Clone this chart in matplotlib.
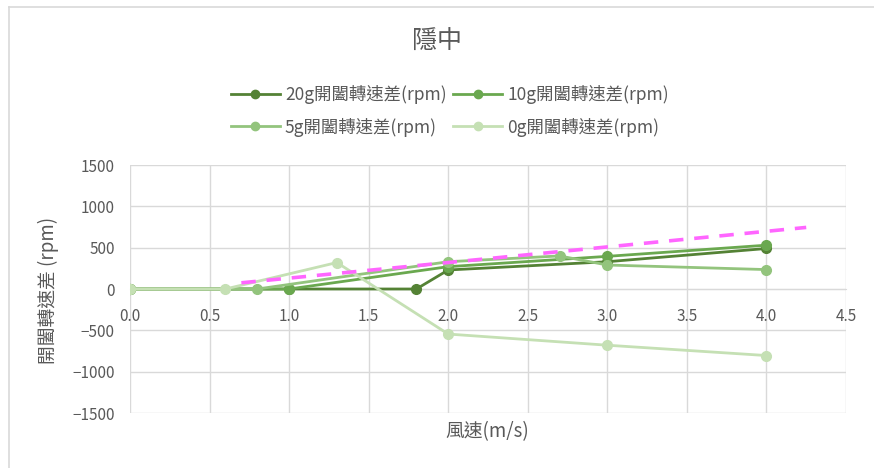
import matplotlib
matplotlib.use("Agg")
from matplotlib import pyplot as plt
from matplotlib.lines import Line2D

plt.rcParams['font.family'] = ['Noto Sans CJK TC', 'DejaVu Sans']

# data
x_20g = [0.0, 1.0, 1.8, 2.0, 3.0, 4.0]
y_20g = [0, 0, 0, 230, 330, 490]
x_10g = [0.0, 1.0, 2.0, 3.0, 4.0]
y_10g = [0, 0, 270, 395, 530]
x_5g = [0.0, 0.8, 2.0, 2.7, 3.0, 4.0]
y_5g = [0, 0, 330, 400, 290, 235]
x_0g = [0.0, 0.6, 1.3, 2.0, 3.0, 4.0]
y_0g = [0, 0, 320, -545, -680, -805]
trend_x = [0.7, 4.25]
trend_y = [75, 745]

labels = ['20g開闔轉速差(rpm)', '10g開闔轉速差(rpm)', '5g開闔轉速差(rpm)', '0g開闔轉速差(rpm)']
colors = ['#548235', '#6AA84F', '#93C47D', '#C5E0B4']
x_ticks = [0.0, 0.5, 1.0, 1.5, 2.0, 2.5, 3.0, 3.5, 4.0, 4.5]
y_ticks = [-1500, -1000, -500, 0, 500, 1000, 1500]

text_color = '#595959'
grid_color = '#D9D9D9'

fig = plt.figure(figsize=(8.74, 4.68), dpi=100)
ax = fig.add_axes([130 / 874, 1 - 413 / 468, 716 / 874, 248 / 468])

series = [(x_20g, y_20g), (x_10g, y_10g), (x_5g, y_5g), (x_0g, y_0g)]
# later series sit on top, like in the spreadsheet
for i, ((xs, ys), c) in enumerate(zip(series, colors)):
    ax.plot(xs, ys, color=c, lw=2.0, marker='o', ms=7, mec=c, mfc=c, zorder=3 + i * 0.1)

ax.plot(trend_x, trend_y, color='#FF66FF', lw=2.6, ls=(0, (4, 3)), zorder=4)

ax.set_xlim(0, 4.5)
ax.set_ylim(-1500, 1500)
ax.set_xticks(x_ticks)
ax.set_xticklabels([f'{v:.1f}' for v in x_ticks])
ax.set_yticks(y_ticks)
ax.grid(True, color=grid_color, lw=1)
ax.set_axisbelow(True)

for side in ['top', 'right', 'left']:
    ax.spines[side].set_visible(False)
ax.spines['bottom'].set_position(('data', 0))
ax.spines['bottom'].set_color(grid_color)
ax.tick_params(length=0, colors=text_color, labelsize=11)
ax.tick_params(axis='x', pad=14)
ax.tick_params(axis='y', pad=11)

fig.text(487 / 874, 1 - 432 / 468, '風速(m/s)', ha='center', va='center',
         fontsize=13.5, color=text_color)
fig.text(48 / 874, 1 - 290 / 468, '開闔轉速差 (rpm)', ha='center', va='center',
         rotation=90, fontsize=13.5, color=text_color)
fig.text(437 / 874, 1 - 42 / 468, '隱中', ha='center', va='center',
         fontsize=18, color=text_color)

# legend fills column by column, so reorder to get 20g,10g / 5g,0g rows
order = [0, 2, 1, 3]
handles = [Line2D([], [], color=colors[i], lw=2.0, marker='o', ms=6,
                  mec=colors[i], mfc=colors[i]) for i in order]
fig.legend(handles, [labels[i] for i in order], loc='center',
           bbox_to_anchor=(450 / 874, 1 - 111 / 468),
           ncol=2, frameon=False, fontsize=12.5, labelcolor=text_color,
           handlelength=2.8, handletextpad=0.3, columnspacing=0.4, labelspacing=0.75)

# chart frame (only left and top edges are inside the screenshot)
fig.add_artist(Line2D([9 / 874, 9 / 874], [0, 1 - 7 / 468], color='#D9D9D9', lw=1.2))
fig.add_artist(Line2D([9 / 874, 1], [1 - 7 / 468, 1 - 7 / 468], color='#D9D9D9', lw=1.2))

fig.savefig('out.png', dpi=100)
